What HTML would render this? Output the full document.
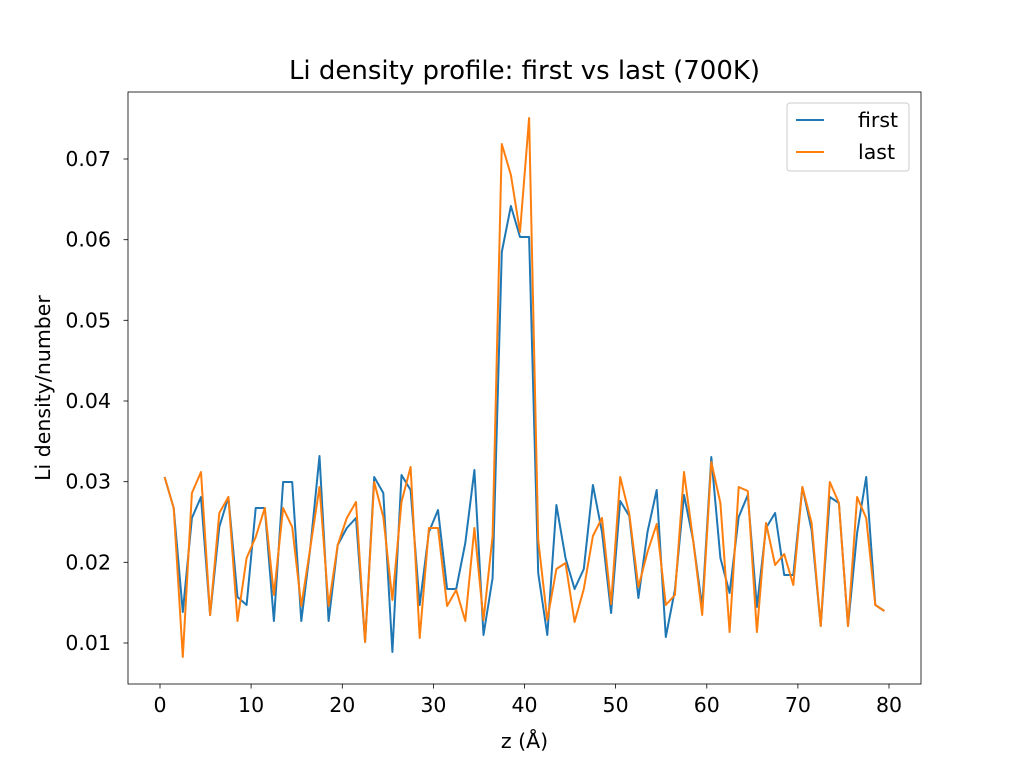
<!DOCTYPE html>
<html><head><meta charset="utf-8"><style>body{margin:0;background:#fff}svg{display:block;font-family:"DejaVu Sans","Liberation Sans",sans-serif}</style></head><body>
<svg width="1024" height="768" viewBox="0 0 1024 768">
<rect width="1024" height="768" fill="#fff"/>
<text x="524.5" y="79" font-size="26" text-anchor="middle">Li density profile: first vs last (700K)</text>
<g stroke="#000" stroke-width="0.8" fill="none"><rect x="128" y="92" width="793" height="592"/></g>
<g font-size="20.5" text-anchor="middle">
<g stroke="#000" stroke-width="0.8">
<line x1="160" y1="684" x2="160" y2="688.5"/><line x1="251.1" y1="684" x2="251.1" y2="688.5"/><line x1="342.3" y1="684" x2="342.3" y2="688.5"/><line x1="433.4" y1="684" x2="433.4" y2="688.5"/><line x1="524.5" y1="684" x2="524.5" y2="688.5"/><line x1="615.6" y1="684" x2="615.6" y2="688.5"/><line x1="706.8" y1="684" x2="706.8" y2="688.5"/><line x1="797.9" y1="684" x2="797.9" y2="688.5"/><line x1="889" y1="684" x2="889" y2="688.5"/>
</g>
<text x="160" y="712">0</text><text x="251.1" y="712">10</text><text x="342.3" y="712">20</text><text x="433.4" y="712">30</text><text x="524.5" y="712">40</text><text x="615.6" y="712">50</text><text x="706.8" y="712">60</text><text x="797.9" y="712">70</text><text x="889" y="712">80</text>
</g>
<text x="524.5" y="748" font-size="20.5" text-anchor="middle">z (Å)</text>
<g font-size="20.5" text-anchor="end">
<g stroke="#000" stroke-width="0.8">
<line x1="123.5" y1="643" x2="128" y2="643"/><line x1="123.5" y1="562.3" x2="128" y2="562.3"/><line x1="123.5" y1="481.7" x2="128" y2="481.7"/><line x1="123.5" y1="401" x2="128" y2="401"/><line x1="123.5" y1="320.3" x2="128" y2="320.3"/><line x1="123.5" y1="239.7" x2="128" y2="239.7"/><line x1="123.5" y1="159" x2="128" y2="159"/>
</g>
<text x="111" y="650">0.01</text><text x="111" y="569.3">0.02</text><text x="111" y="488.7">0.03</text><text x="111" y="408">0.04</text><text x="111" y="327.3">0.05</text><text x="111" y="246.7">0.06</text><text x="111" y="166">0.07</text>
</g>
<text transform="translate(50,388) rotate(-90)" font-size="20.5" text-anchor="middle">Li density/number</text>
<polyline fill="none" stroke="#1f77b4" stroke-width="2" stroke-linejoin="round" points="164.6,477 173.7,508 182.8,612 191.9,518 201,497 210.1,615 219.3,527 228.4,497 237.5,597 246.6,605 255.7,508 264.8,508 273.9,621 283.1,482 292.2,482 301.3,621 310.4,547 319.5,456 328.6,621 337.7,545 346.8,528 356,518 365.1,642 374.2,477 383.3,493 392.4,652 401.5,475 410.6,490 419.7,605 428.9,532 438,510 447.1,589 456.2,589 465.3,543 474.4,470 483.5,635 492.6,578 501.8,252 510.9,206 520,237 529.1,237 538.2,573 547.3,635 556.4,505 565.5,558 574.6,589 583.8,569 592.9,485 602,532 611.1,613 620.2,501 629.3,516 638.4,598 647.5,532 656.7,490 665.8,637 674.9,590 684,495 693.1,540 702.2,607 711.3,457 720.4,558 729.6,593 738.7,517 747.8,495 756.9,607 766,528 775.1,513 784.2,575 793.3,575 802.4,487 811.6,530 820.7,626 829.8,497 838.9,503 848,626 857.1,533 866.2,477 875.3,605 884.4,611"/>
<polyline fill="none" stroke="#ff7f0e" stroke-width="2" stroke-linejoin="round" points="164.6,477 173.7,508 182.8,657 191.9,493 201,472 210.1,615 219.3,513 228.4,497 237.5,621 246.6,558 255.7,537 264.8,508 273.9,595 283.1,508 292.2,527 301.3,606 310.4,547 319.5,487 328.6,606 337.7,545 346.8,518 356,502 365.1,642 374.2,482 383.3,517 392.4,600 401.5,502 410.6,467 419.7,638 428.9,528 438,528 447.1,606 456.2,590 465.3,621 474.4,528 483.5,620 492.6,536 501.8,144 510.9,175 520,232 529.1,118 538.2,540 547.3,620 556.4,569 565.5,563 574.6,622 583.8,589 592.9,536 602,518 611.1,604 620.2,477 629.3,514 638.4,587 647.5,552 656.7,524 665.8,605 674.9,595 684,472 693.1,540 702.2,615 711.3,462 720.4,503 729.6,632 738.7,487 747.8,491 756.9,632 766,523 775.1,565 784.2,554 793.3,585 802.4,487 811.6,523 820.7,626 829.8,482 838.9,503 848,626 857.1,497 866.2,518 875.3,605 884.4,611"/>
<rect x="787" y="103" width="122" height="68" rx="3" fill="#fff" fill-opacity="0.8" stroke="#ccc" stroke-width="1"/>
<line x1="796" y1="120" x2="824" y2="120" stroke="#1f77b4" stroke-width="2"/>
<text x="858" y="127" font-size="20.5">first</text>
<line x1="796" y1="152" x2="824" y2="152" stroke="#ff7f0e" stroke-width="2"/>
<text x="858" y="159" font-size="20.5">last</text>
</svg>
</body></html>
